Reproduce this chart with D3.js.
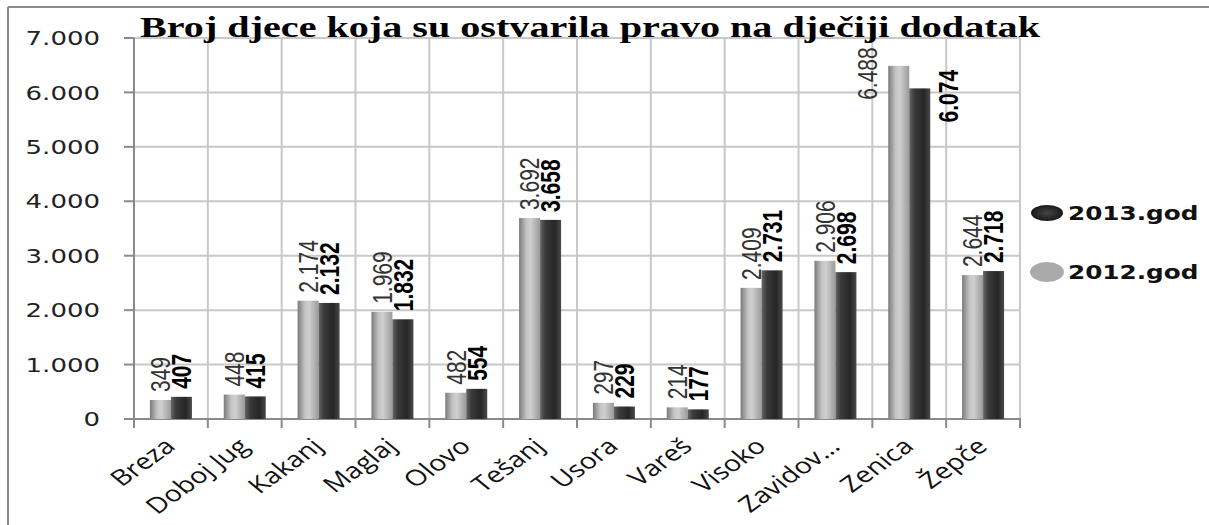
<!DOCTYPE html>
<html>
<head>
<meta charset="utf-8">
<script src="https://cdn.jsdelivr.net/npm/d3@7"></script>
<style>
  body { margin: 0; background: #fff; }
</style>
</head>
<body>
<div id="chart"></div>
<script>
// Data
const cities = ["Breza", "Doboj Jug", "Kakanj", "Maglaj", "Olovo", "Tešanj", "Usora", "Vareš", "Visoko", "Zavidov…", "Zenica", "Žepče"];
const values2012 = [349, 448, 2174, 1969, 482, 3692, 297, 214, 2409, 2906, 6488, 2644];
const values2013 = [407, 415, 2132, 1832, 554, 3658, 229, 177, 2731, 2698, 6074, 2718];
const yTicks = [0, 1000, 2000, 3000, 4000, 5000, 6000, 7000];
const seriesNames = ["2013.god", "2012.god"];

const W = 1209, H = 525;
const SX = 1.3; // the original picture is stretched horizontally
const plot = { left: 134, right: 1020, top: 38, bottom: 419 };

const loc = d3.formatLocale({ decimal: ",", thousands: ".", grouping: [3], currency: ["", ""] });
const fmt = loc.format(",d");

const svg = d3.select("#chart").append("svg")
  .attr("width", W).attr("height", H);

// gradients for the cylinder-ish bars
const defs = svg.append("defs");
const light = defs.append("linearGradient").attr("id", "gLight");
[["0%", "#7a7a7a"], ["35%", "#c4c4c4"], ["55%", "#cfcfcf"], ["100%", "#9a9a9a"]]
  .forEach(s => light.append("stop").attr("offset", s[0]).attr("stop-color", s[1]));
const dark = defs.append("linearGradient").attr("id", "gDark");
[["0%", "#666"], ["25%", "#3a3a3a"], ["70%", "#262626"], ["100%", "#4a4a4a"]]
  .forEach(s => dark.append("stop").attr("offset", s[0]).attr("stop-color", s[1]));
const legDark = defs.append("radialGradient").attr("id", "lDark");
[["0%", "#444"], ["100%", "#1a1a1a"]].forEach(s => legDark.append("stop").attr("offset", s[0]).attr("stop-color", s[1]));

// outer frame
svg.append("line").attr("x1", 8).attr("x2", W).attr("y1", 7).attr("y2", 7)
  .attr("stroke", "#8a8a8a").attr("stroke-width", 2);
svg.append("line").attr("x1", 8).attr("x2", 8).attr("y1", 7).attr("y2", H)
  .attr("stroke", "#8a8a8a").attr("stroke-width", 2);

// scales
const x = d3.scaleBand().domain(cities).range([plot.left, plot.right]);
const y = d3.scaleLinear().domain([0, 7000]).range([plot.bottom, plot.top]);
const bw = 21;
const groupOff = (x.bandwidth() - 2 * bw) / 2;

// gridlines
svg.append("g").selectAll("line").data(yTicks.filter(d => d > 0)).enter().append("line")
  .attr("x1", plot.left).attr("x2", plot.right)
  .attr("y1", d => y(d)).attr("y2", d => y(d))
  .attr("stroke", "#c8c8c8").attr("stroke-width", 2);
svg.append("g").selectAll("line").data(cities).enter().append("line")
  .attr("x1", d => x(d) + x.bandwidth()).attr("x2", d => x(d) + x.bandwidth())
  .attr("y1", plot.top).attr("y2", plot.bottom)
  .attr("stroke", "#c8c8c8").attr("stroke-width", 2);

// axes
const axisColor = "#8a8a8a";
svg.append("line").attr("x1", plot.left).attr("x2", plot.left)
  .attr("y1", plot.top).attr("y2", plot.bottom + 1)
  .attr("stroke", axisColor).attr("stroke-width", 2);
svg.append("line").attr("x1", plot.left).attr("x2", plot.right + 1)
  .attr("y1", plot.bottom).attr("y2", plot.bottom)
  .attr("stroke", axisColor).attr("stroke-width", 2);
svg.append("g").selectAll("line").data(yTicks).enter().append("line")
  .attr("x1", plot.left - 10).attr("x2", plot.left)
  .attr("y1", d => y(d)).attr("y2", d => y(d))
  .attr("stroke", axisColor).attr("stroke-width", 2);
const bounds = [x(cities[0])].concat(cities.map(c => x(c) + x.bandwidth()));
svg.append("g").selectAll("line").data(bounds).enter().append("line")
  .attr("x1", d => d).attr("x2", d => d)
  .attr("y1", plot.bottom).attr("y2", plot.bottom + 9)
  .attr("stroke", axisColor).attr("stroke-width", 2);

// y tick labels
svg.append("g").selectAll("text").data(yTicks).enter().append("text")
  .attr("transform", d => `translate(100,${y(d)}) scale(${SX},1)`)
  .attr("dy", "0.36em")
  .attr("text-anchor", "end")
  .attr("font-family", "'DejaVu Sans', Verdana, sans-serif")
  .attr("font-size", 20)
  .attr("fill", "#222")
  .text(d => fmt(d));

// x labels
svg.append("g").selectAll("text").data(cities).enter().append("text")
  .attr("transform", d => `translate(${x(d) + x.bandwidth() / 2 + 6},448) scale(${SX},1) rotate(-43)`)
  .attr("text-anchor", "end")
  .attr("font-family", "'Open Sans', 'Liberation Sans', sans-serif")
  .attr("font-size", 22)
  .attr("fill", "#111")
  .text(d => d);

// bars
const series = [
  { vals: values2012, off: 0, fill: "url(#gLight)" },
  { vals: values2013, off: bw, fill: "url(#gDark)" }
];
series.forEach((s, si) => {
  svg.append("g").selectAll("rect").data(cities).enter().append("rect")
    .attr("x", d => x(d) + groupOff + s.off)
    .attr("y", (d, i) => y(s.vals[i]))
    .attr("width", bw)
    .attr("height", (d, i) => plot.bottom - y(s.vals[i]))
    .attr("fill", s.fill);
});

// data labels (vertical)
series.forEach((s, si) => {
  svg.append("g").selectAll("text").data(cities).enter().append("text")
    .attr("transform", (d, i) => {
      const cx = x(d) + groupOff + s.off + bw / 2;
      const top = y(s.vals[i]);
      const len = 60;
      if (top - 8 - len < plot.top) {
        // no room above: put beside the bar
        const sx = si === 0 ? cx - 32 : cx + 28;
        return `translate(${sx},${top + 34}) scale(${SX},1) rotate(-90)`;
      }
      return `translate(${cx},${top - 8}) scale(${SX},1) rotate(-90)`;
    })
    .attr("dy", "0.36em")
    .attr("text-anchor", "start")
    .attr("font-family", "'Liberation Sans', Arial, sans-serif")
    .attr("font-size", 21)
    .attr("font-weight", si === 0 ? "normal" : "bold")
    .attr("fill", si === 0 ? "#333" : "#000")
    .text((d, i) => fmt(s.vals[i]));
});

// title
svg.append("text")
  .attr("x", 140).attr("y", 37)
  .attr("textLength", 900).attr("lengthAdjust", "spacingAndGlyphs")
  .attr("font-family", "'Liberation Serif', 'Times New Roman', serif")
  .attr("font-size", 29)
  .attr("font-weight", "bold")
  .attr("fill", "#000")
  .text("Broj djece koja su ostvarila pravo na dječiji dodatak");

// legend
const legend = [
  { name: seriesNames[0], cy: 213, rx: 16, ry: 8, fill: "url(#lDark)" },
  { name: seriesNames[1], cy: 272, rx: 17, ry: 10, fill: "#aaa" }
];
legend.forEach(l => {
  svg.append("ellipse").attr("cx", 1047).attr("cy", l.cy)
    .attr("rx", l.rx).attr("ry", l.ry).attr("fill", l.fill);
  svg.append("text")
    .attr("transform", `translate(1068,${l.cy}) scale(${SX},1)`)
    .attr("dy", "0.36em")
    .attr("font-family", "'DejaVu Sans', Verdana, sans-serif")
    .attr("font-size", 19)
    .attr("font-weight", "bold")
    .attr("fill", "#111")
    .text(l.name);
});
</script>
</body>
</html>
